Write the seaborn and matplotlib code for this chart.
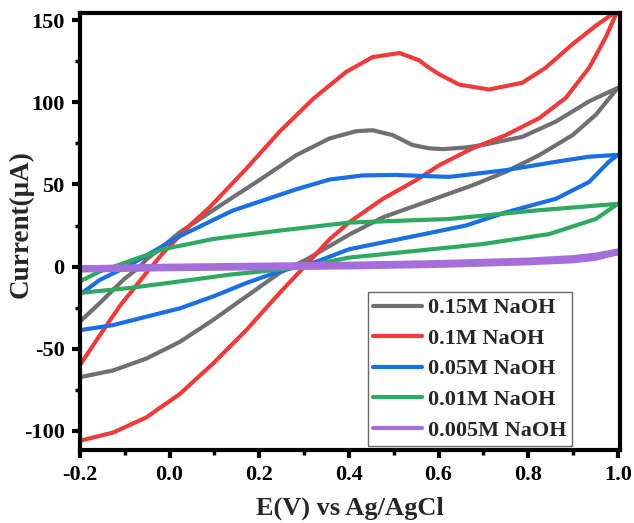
import matplotlib
matplotlib.use("Agg")
import matplotlib.pyplot as plt
import seaborn as sns
import pandas as pd
from matplotlib.ticker import MultipleLocator

# ---- data (forward scan then reverse scan) ----
labels = ["0.15M NaOH", "0.1M NaOH", "0.05M NaOH", "0.01M NaOH", "0.005M NaOH"]
colors = ["#707070", "#EE3B3B", "#1A6FE3", "#2FA862", "#A46FDB"]

E_015 = [-0.2, -0.155, -0.103, -0.066, -0.052, -0.014, 0.023, 0.112, 0.208, 0.282, 0.357, 0.416, 0.453, 0.498, 0.542, 0.579, 0.61, 0.661, 0.698, 0.787, 0.862, 0.936, 1.0,
         0.951, 0.899, 0.825, 0.75, 0.676, 0.602, 0.55, 0.476, 0.401, 0.379, 0.305, 0.245, 0.171, 0.097, 0.023, -0.052, -0.126, -0.2]
I_015 = [-33.5, -22, -8, 0, 4.3, 12.5, 20.9, 37, 54, 67.7, 78, 82.4, 83, 80, 74, 72, 71.5, 72.5, 74, 79, 88.3, 100.6, 108.8,
         92.4, 80, 67.9, 57.7, 49.5, 42.3, 37.2, 30, 19.5, 16, 4.3, -3.9, -18.2, -32.5, -45.8, -56, -63.2, -67.3]

E_01 = [-0.2, -0.163, -0.111, -0.052, -0.014, 0.015, 0.045, 0.089, 0.171, 0.245, 0.32, 0.394, 0.453, 0.513, 0.557, 0.579, 0.602, 0.646, 0.713, 0.787, 0.839, 0.899, 0.951, 1.0,
        0.973, 0.936, 0.884, 0.825, 0.75, 0.676, 0.602, 0.55, 0.476, 0.401, 0.357, 0.305, 0.245, 0.171, 0.097, 0.023, -0.052, -0.126, -0.2]
I_01 = [-60, -44.8, -24, -3.9, 8.4, 16.6, 25, 36, 59.5, 82, 102, 118.5, 127.5, 130, 125.5, 121, 117, 110.8, 107.8, 111.9, 121, 135.4, 146.6, 156,
        139.5, 121, 102.7, 90.4, 80, 72, 61.8, 52.6, 41.3, 27, 16.6, 1.2, -16.2, -38.7, -59, -77.5, -91.8, -101, -106]

E_005 = [-0.2, -0.155, -0.095, 0.023, 0.14, 0.282, 0.357, 0.431, 0.505, 0.579, 0.624, 0.75, 0.862, 0.936, 1.0,
         0.98, 0.936, 0.862, 0.75, 0.661, 0.55, 0.401, 0.32, 0.245, 0.171, 0.097, 0.023, -0.052, -0.126, -0.2]
I_005 = [-17, -8, 0, 18.5, 34, 47, 53, 55.5, 55.8, 55, 54.6, 58.7, 63.8, 66.9, 68,
         63.8, 51.5, 41.3, 33, 25, 18.8, 10.6, 2.2, -2.9, -10, -18.2, -25.4, -30.5, -35.6, -38.7]

E_001 = [-0.2, -0.155, -0.118, -0.014, 0.097, 0.245, 0.401, 0.624, 0.81, 1.0,
         0.951, 0.847, 0.698, 0.55, 0.401, 0.32, 0.245, 0.134, 0.023, -0.089, -0.2]
I_001 = [-9, -2.9, 0.6, 10.6, 16.8, 21.9, 26.8, 29, 34, 38.2,
         29, 19.8, 13.7, 9.6, 5.5, 1.2, -1.8, -4.9, -9, -13, -16]

E_0005 = [-0.2, 0.0, 0.4, 0.6, 0.8, 0.9, 0.95, 1.0,
          0.95, 0.9, 0.8, 0.6, 0.4, 0.0, -0.2]
I_0005 = [-1.2, -0.2, 1, 2, 3.5, 5, 6.5, 9,
          5.5, 4, 2.8, 1.2, 0.3, -0.8, -1.6]

series_E = [E_015, E_01, E_005, E_001, E_0005]
series_I = [I_015, I_01, I_005, I_001, I_0005]
widths = [3.0, 3.0, 3.0, 3.0, 4.8]

xticks = [-0.2, 0.0, 0.2, 0.4, 0.6, 0.8, 1.0]
yticks = [-100, -50, 0, 50, 100, 150]

# ---- style ----
sns.set_style("ticks")
plt.rcParams["font.family"] = ["Liberation Serif", "DejaVu Serif"]
plt.rcParams["font.weight"] = "bold"
plt.rcParams["axes.unicode_minus"] = False
plt.rcParams["lines.solid_joinstyle"] = "round"
plt.rcParams["lines.solid_capstyle"] = "round"

fig = plt.figure(figsize=(6.34, 5.23), dpi=100)
ax = fig.add_axes([0.126, 0.1396, 0.852, 0.8354])

for lab, col, E, I, lw in zip(labels, colors, series_E, series_I, widths):
    df = pd.DataFrame({"E": E, "I": I})
    sns.lineplot(data=df, x="E", y="I", sort=False, estimator=None,
                 color=col, linewidth=lw, label=lab, ax=ax)

ax.set_xlim(-0.2, 1.005)
ax.set_ylim(-111.6, 154.3)
ax.set_xticks(xticks)
ax.set_xticklabels([f"{t:.1f}" for t in xticks])
ax.set_yticks(yticks)
ax.set_yticklabels([str(t) for t in yticks])
ax.xaxis.set_minor_locator(MultipleLocator(0.1))
ax.yaxis.set_minor_locator(MultipleLocator(25))

for s in ax.spines.values():
    s.set_linewidth(3.0)
    s.set_color("black")
ax.tick_params(which="major", direction="out", length=6, width=3, labelsize=16, pad=5, colors="black")
ax.tick_params(which="minor", direction="out", length=3.5, width=2.5, colors="black")
ax.tick_params(top=False, right=False, which="both")
for lbl in ax.get_xticklabels() + ax.get_yticklabels():
    lbl.set_fontweight("bold")

ax.set_xlabel("E(V) vs Ag/AgCl", fontsize=19, fontweight="bold", labelpad=8)
ax.set_ylabel("Current(μA)", fontsize=19.5, fontweight="bold")
ax.yaxis.set_label_coords(-0.086, 0.518)

leg = ax.legend(loc="lower right", bbox_to_anchor=(0.911, 0.009), frameon=True, fancybox=False,
                prop={"weight": "bold", "size": 16}, handlelength=2.2, handletextpad=0.25,
                labelspacing=0.45, borderpad=0.25, borderaxespad=0.0)
leg.get_frame().set_edgecolor("#444444")
leg.get_frame().set_linewidth(1.0)
for h in leg.get_lines():
    h.set_linewidth(3.0)

fig.savefig("out.png", dpi=100)
